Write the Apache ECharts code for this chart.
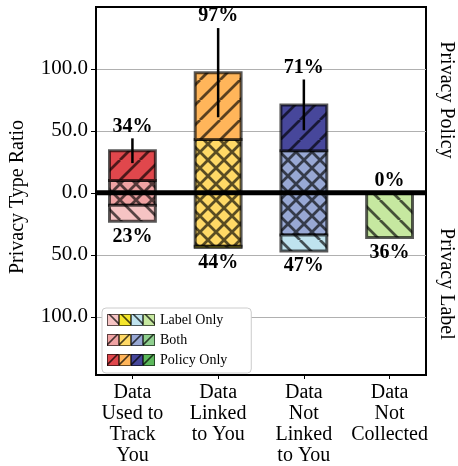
<!DOCTYPE html>
<html><head><meta charset="utf-8">
<script src="https://cdn.jsdelivr.net/npm/echarts@6/dist/echarts.min.js"></script>
<style>html,body{margin:0;padding:0;background:#fff}#c{width:458px;height:466px}</style>
</head><body><div id="c"></div>
<script>
// ---- data ----
const categories = ['Data\nUsed to\nTrack\nYou', 'Data\nLinked\nto You', 'Data\nNot\nLinked\nto You', 'Data\nNot\nCollected'];
const bothShare = [10, 43, 34, 0];        // present in both policy and label (%)
const policyOnly = [24, 54, 37, 0];       // only in privacy policy (%)
const labelOnly = [13, 1, 13, 36];        // only in privacy label (%)
const policyError = [10, 36, 20.5, 0];    // error on policy total
const yTicks = [-100, -50, 0, 50, 100];
const xTicks = [0, 1, 2, 3];
const zeroLine = [0];

// ---- styles ----
const policyColors = ['#e0474c', '#ffb55a', '#47479b', '#5cb85c'];
const bothColors = ['#f0a3a3', '#ffd966', '#98a8d4', '#8fcf8f'];
const labelColors = ['#f6c4c4', '#f5e62a', '#bfe3ee', '#c6e8a0'];
const FONT = '"Liberation Serif", "Times New Roman", serif';
const EDGE = 'rgba(0,0,0,0.65)';

function hatchCanvas(color, kind, s, lw) {
  const c = document.createElement('canvas'); c.width = s; c.height = s;
  const g = c.getContext('2d');
  g.fillStyle = color; g.fillRect(0, 0, s, s);
  g.strokeStyle = 'rgba(0,0,0,0.65)'; g.lineWidth = lw;
  g.beginPath();
  if (kind === '/' || kind === 'x') {
    for (const o of [-s, 0, s]) { g.moveTo(o, s); g.lineTo(o + s, 0); }
  }
  if (kind === '\\' || kind === 'x') {
    for (const o of [-s, 0, s]) { g.moveTo(o, 0); g.lineTo(o + s, s); }
  }
  g.stroke();
  return c;
}
const pat = (color, kind) => ({
  image: kind === 'x' ? hatchCanvas(color, 'x', 16, 2.8) : hatchCanvas(color, kind, 20, 2.8),
  repeat: 'repeat'
});

function legendIcon(colors, kind) {
  const w = 48, h = 12, c = document.createElement('canvas'); c.width = w; c.height = h;
  const g = c.getContext('2d');
  for (let i = 0; i < 4; i++) {
    const x0 = i * 12;
    g.fillStyle = colors[i]; g.fillRect(x0, 0, 12, h);
    g.save(); g.beginPath(); g.rect(x0, 0, 12, h); g.clip();
    g.strokeStyle = 'rgba(0,0,0,0.7)'; g.lineWidth = 1.6;
    g.beginPath();
    if (kind === '\\') { g.moveTo(x0 + 2, 0); g.lineTo(x0 + 14, h); }
    else { g.moveTo(x0 - 1, h); g.lineTo(x0 + 11, 0); }
    g.stroke(); g.restore();
    g.strokeStyle = 'rgba(0,0,0,0.6)'; g.lineWidth = 1;
    g.strokeRect(x0 + 0.5, 0.5, 11, h - 1);
  }
  return 'image://' + c.toDataURL();
}

const BAR_W = 0.535;
function rectItem(api, x, y1, y2, fill) {
  const p1 = api.coord([x, y1]), p2 = api.coord([x, y2]);
  const w = api.size([BAR_W, 0])[0];
  return {
    type: 'rect',
    shape: { x: p1[0] - w / 2, y: Math.min(p1[1], p2[1]), width: w, height: Math.abs(p2[1] - p1[1]) },
    style: { fill: fill, stroke: EDGE, lineWidth: 3 }
  };
}

const chart = echarts.init(document.getElementById('c'), null, { renderer: 'canvas' });
const option = {
  animation: false,
  grid: { left: 96, right: 32, top: 7, bottom: 91, show: true, borderColor: '#000', borderWidth: 2, backgroundColor: 'transparent' },
  legend: {
    orient: 'vertical', left: 102, top: 308,
    padding: [5, 24, 6, 5], itemGap: 6, itemWidth: 48, itemHeight: 12,
    borderColor: '#cccccc', borderWidth: 1, borderRadius: 4, backgroundColor: '#fff',
    textStyle: { fontFamily: FONT, fontSize: 14, color: '#000' },
    data: [
      { name: 'Label Only', icon: legendIcon(labelColors, '\\') },
      { name: 'Both', icon: legendIcon(bothColors, '/') },
      { name: 'Policy Only', icon: legendIcon(policyColors, '/') }
    ],
    selectedMode: false
  },
  xAxis: {
    type: 'value', min: -0.425, max: 3.425,
    axisLine: { show: true, onZero: false, lineStyle: { color: '#000', width: 2 } },
    axisTick: { show: true, customValues: xTicks, length: 4, lineStyle: { color: '#000', width: 1 } },
    axisLabel: {
      customValues: xTicks, formatter: v => categories[Math.round(v)],
      fontFamily: FONT, fontSize: 20, color: '#000', lineHeight: 21, margin: 7, align: 'center'
    },
    splitLine: { show: false }
  },
  yAxis: {
    type: 'value', min: -147, max: 150,
    name: 'Privacy Type Ratio', nameLocation: 'middle', nameGap: 68,
    nameTextStyle: { fontFamily: FONT, fontSize: 20, color: '#000', padding: [0, 12, 0, 0] },
    axisLine: { show: true, onZero: false, lineStyle: { color: '#000', width: 2 } },
    axisTick: { show: true, customValues: yTicks, length: 5, lineStyle: { color: '#000', width: 1 } },
    axisLabel: {
      customValues: yTicks, formatter: v => Math.abs(v).toFixed(1),
      fontFamily: FONT, fontSize: 21, color: '#000', margin: 8
    },
    splitLine: { show: true, lineStyle: { color: '#b0b0b0', width: 1 } }
  },
  series: [
    {
      name: 'Both', type: 'custom', z: 2,
      data: bothShare.map((v, i) => [i, v]),
      renderItem: (params, api) => {
        const i = api.value(0), v = api.value(1);
        if (!v) return null;
        const f = pat(bothColors[i], 'x');
        return { type: 'group', children: [rectItem(api, i, 0, v, f), rectItem(api, i, 0, -v, f)] };
      }
    },
    {
      name: 'Policy Only', type: 'custom', z: 3,
      data: policyOnly.map((v, i) => [i, bothShare[i], v]),
      renderItem: (params, api) => {
        const i = api.value(0), b = api.value(1), v = api.value(2);
        if (!v) return null;
        return rectItem(api, i, b, b + v, pat(policyColors[i], '/'));
      }
    },
    {
      name: 'Label Only', type: 'custom', z: 3,
      data: labelOnly.map((v, i) => [i, bothShare[i], v]),
      renderItem: (params, api) => {
        const i = api.value(0), b = api.value(1), v = api.value(2);
        if (!v) return null;
        return rectItem(api, i, -b, -(b + v), pat(labelColors[i], '\\'));
      }
    },
    {
      name: 'zero', type: 'custom', z: 5, silent: true,
      data: zeroLine.map(v => [0, v]),
      renderItem: (params, api) => {
        const cs = params.coordSys;
        const y = api.coord([0, api.value(1)])[1];
        return { type: 'line', shape: { x1: cs.x, y1: y, x2: cs.x + cs.width, y2: y }, style: { stroke: '#000', lineWidth: 5 } };
      }
    },
    {
      name: 'errors', type: 'custom', z: 6,
      data: policyError.map((e, i) => [i, bothShare[i] + policyOnly[i], e, bothShare[i] + labelOnly[i]]),
      renderItem: (params, api) => {
        const i = api.value(0), top = api.value(1), e = api.value(2), bot = api.value(3);
        const hi = api.coord([i, top + e]), lo = api.coord([i, top - e]);
        const bp = api.coord([i, -bot]);
        const children = [];
        if (e > 0) children.push({ type: 'line', shape: { x1: hi[0], y1: hi[1], x2: lo[0], y2: lo[1] }, style: { stroke: '#000', lineWidth: 2.5 } });
        children.push({ type: 'text', style: { text: top + '%', x: hi[0], y: hi[1] - 2, align: 'center', verticalAlign: 'bottom', font: 'bold 20px ' + FONT, fill: '#000' } });
        children.push({ type: 'text', style: { text: bot + '%', x: bp[0], y: bp[1] + 5, align: 'center', verticalAlign: 'top', font: 'bold 20px ' + FONT, fill: '#000' } });
        return { type: 'group', children };
      }
    }
  ]
};
chart.setOption(option);
const yTopC = chart.convertToPixel({ yAxisIndex: 0 }, 150);
const y0C = chart.convertToPixel({ yAxisIndex: 0 }, 0);
const yBotC = chart.convertToPixel({ yAxisIndex: 0 }, -147);
const xRight = chart.convertToPixel({ xAxisIndex: 0 }, 3.425);
chart.setOption({
  graphic: [
    { type: 'text', x: xRight + 20, y: (yTopC + y0C) / 2, rotation: -Math.PI / 2,
      style: { text: 'Privacy Policy', font: '20px ' + FONT, fill: '#000', align: 'center', verticalAlign: 'middle' } },
    { type: 'text', x: xRight + 20, y: (y0C + yBotC) / 2, rotation: -Math.PI / 2,
      style: { text: 'Privacy Label', font: '20px ' + FONT, fill: '#000', align: 'center', verticalAlign: 'middle' } }
  ]
});
</script>
</body></html>
